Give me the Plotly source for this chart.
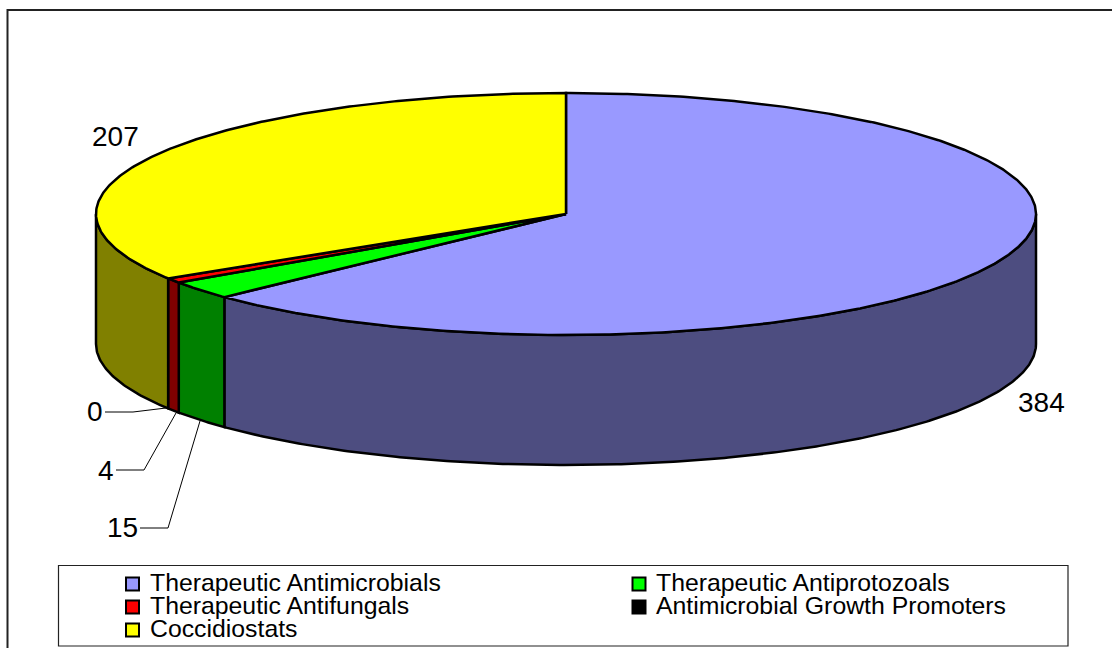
import numpy as np
import plotly.graph_objects as go

CATEGORIES = ['Therapeutic Antimicrobials', 'Therapeutic Antiprotozoals', 'Therapeutic Antifungals',
              'Antimicrobial Growth Promoters', 'Coccidiostats']
VALUES = [384, 15, 4, 0, 207]
TOP_COLORS = ['#9999FF', '#00FF00', '#FF0000', '#000000', '#FFFF00']
SIDE_COLORS = ['#4D4D80', '#008000', '#800000', '#000000', '#808000']

# pie geometry, in pixels of the page
CX, CY = 566, 214
RX, RY = 470, 121
DEPTH = 130

# text label position: value index, x, y, and the leader line (if any)
LABELS = [
    (0, 1041, 402, None),
    (1, 122, 527, [(140, 528), (168, 528), (200, 421)]),
    (2, 106, 470, [(116, 470), (144, 470), (176, 413)]),
    (3, 95, 411, [(105, 412), (133, 412), (166, 408)]),
    (4, 115, 136, None),
]
LEGEND_POS = [(132.5, 584), (639, 584), (132.5, 607), (639, 607), (132.5, 630)]


def arc(a0, a1, drop=0.0):
    # clockwise from 12 o'clock, angles in degrees
    n = max(2, int(abs(a1 - a0) * 2) + 2)
    t = np.radians(np.linspace(a0, a1, n))
    return CX + RX * np.sin(t), CY - RY * np.cos(t) + drop


fig = go.Figure()


def add_poly(xs, ys, color):
    fig.add_trace(go.Scatter(x=xs, y=ys, mode='lines', fill='toself', fillcolor=color,
                             line=dict(color='black', width=2.5), hoverinfo='skip', showlegend=False))


total = sum(VALUES)
edges = np.cumsum([0] + VALUES) / total * 360

# side walls first, only the part of the rim that faces the viewer
for i in range(len(VALUES)):
    a0 = max(edges[i], 90)
    a1 = min(edges[i + 1], 270)
    if a1 <= a0:
        continue
    x1, y1 = arc(a0, a1)
    x2, y2 = arc(a1, a0, DEPTH)
    add_poly(list(x1) + list(x2) + [x1[0]], list(y1) + list(y2) + [y1[0]], SIDE_COLORS[i])

# top faces
for i in range(len(VALUES)):
    if VALUES[i] == 0:
        continue
    x1, y1 = arc(edges[i], edges[i + 1])
    add_poly([CX] + list(x1) + [CX], [CY] + list(y1) + [CY], TOP_COLORS[i])

# value labels and leader lines
for i, x, y, leader in LABELS:
    fig.add_annotation(x=x, y=y, text=str(VALUES[i]), showarrow=False,
                       font=dict(family='Liberation Sans', size=28, color='black'))
    if leader:
        fig.add_trace(go.Scatter(x=[p[0] for p in leader], y=[p[1] for p in leader], mode='lines',
                                 line=dict(color='black', width=1), hoverinfo='skip', showlegend=False))

# legend
for name, color, (x, y) in zip(CATEGORIES, TOP_COLORS, LEGEND_POS):
    fig.add_trace(go.Scatter(x=[x], y=[y], mode='markers', hoverinfo='skip', showlegend=False,
                             marker=dict(symbol='square', size=13, color=color, line=dict(color='black', width=2))))
    fig.add_annotation(x=x + 15, y=y - 2, text=name, showarrow=False, xanchor='left',
                       font=dict(family='Liberation Sans', size=24.8, color='black'))

# chart frame and legend box
fig.add_shape(type='rect', x0=7.5, y0=10, x1=1130, y1=670, line=dict(color='#222222', width=2), layer='below')
fig.add_shape(type='rect', x0=58.5, y0=565.5, x1=1068, y1=646, line=dict(color='#222222', width=1.2), layer='below')

fig.update_layout(
    width=1112, height=648, margin=dict(l=0, r=0, t=0, b=0),
    paper_bgcolor='white', plot_bgcolor='white', showlegend=False,
    xaxis=dict(range=[0, 1112], visible=False, fixedrange=True),
    yaxis=dict(range=[648, 0], visible=False, fixedrange=True),
)

# the browser's default body margin would push the chart 8px off
fig.write_html("out.html", config=dict(displayModeBar=False),
               post_script="document.body.style.margin='0';document.body.style.overflow='hidden';")
